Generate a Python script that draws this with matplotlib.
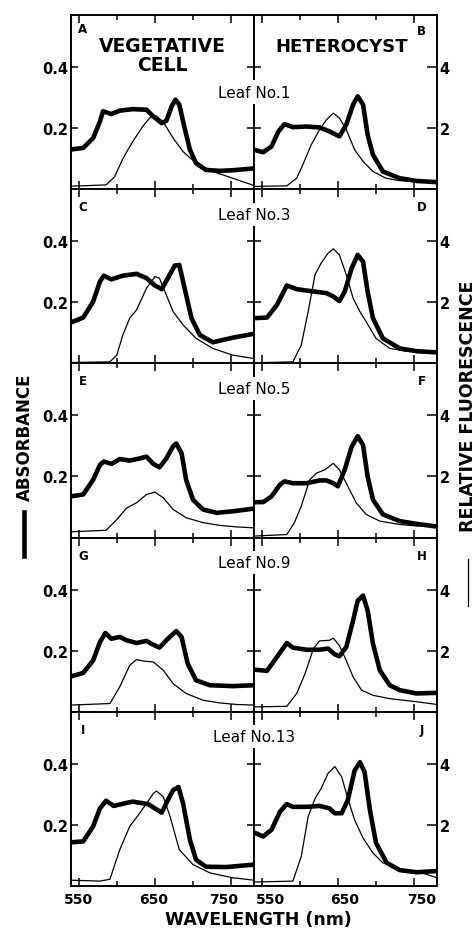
"""Absorbance and fluorescence spectra of vegetative cells and heterocysts, five leaves."""

import matplotlib.pyplot as plt
from matplotlib.lines import Line2D
from matplotlib.transforms import ScaledTranslation

W_PX, H_PX = 477, 929
LEFT_PX, MID_PX, RIGHT_PX = 71, 254, 437
TOP_PX, BOT_PX = 16, 887

LEAVES = ["Leaf No.1", "Leaf No.3", "Leaf No.5", "Leaf No.9", "Leaf No.13"]
LETTERS_VEG = ["A", "C", "E", "G", "I"]
LETTERS_HET = ["B", "D", "F", "H", "J"]
XTICKS = [550, 650, 750]
XMINOR = [600, 700]
ABS_TICKS = [0.2, 0.4]
ABS_LABELS = ["0.2", "0.4"]
FL_TICKS = [2, 4]
FL_LABELS = ["2", "4"]

# ---- leaf 1 ----
a_abs_nm = [540, 556, 569, 578, 582, 593, 604, 621, 639, 648, 659, 665, 672, 677, 682, 689, 696, 704, 717, 735, 752, 780]
a_abs = [0.13, 0.135, 0.167, 0.222, 0.255, 0.246, 0.257, 0.262, 0.26, 0.238, 0.216, 0.224, 0.271, 0.293, 0.277, 0.2,
         0.129, 0.085, 0.063, 0.06, 0.062, 0.068]
a_fl_nm = [540, 586, 597, 608, 621, 634, 643, 652, 661, 674, 687, 704, 726, 752, 780]
a_fl = [0.1, 0.14, 0.4, 1.0, 1.56, 2.05, 2.33, 2.4, 2.2, 1.67, 1.23, 0.85, 0.58, 0.36, 0.12]

b_abs_nm = [540, 552, 563, 572, 580, 591, 609, 626, 639, 652, 661, 670, 676, 683, 689, 696, 709, 731, 753, 780]
b_abs = [0.129, 0.121, 0.14, 0.189, 0.213, 0.203, 0.205, 0.202, 0.189, 0.173, 0.211, 0.277, 0.304, 0.277, 0.178,
         0.113, 0.058, 0.036, 0.027, 0.023]
b_fl_nm = [540, 583, 596, 604, 615, 626, 635, 644, 652, 661, 672, 683, 696, 713, 731, 753, 780]
b_fl = [0.09, 0.11, 0.36, 0.8, 1.45, 1.95, 2.27, 2.49, 2.33, 1.95, 1.29, 0.91, 0.58, 0.36, 0.28, 0.25, 0.22]

# ---- leaf 3 ----
c_abs_nm = [540, 556, 569, 578, 583, 593, 608, 626, 639, 650, 659, 667, 676, 682, 689, 698, 709, 726, 752, 780]
c_abs = [0.134, 0.15, 0.202, 0.268, 0.287, 0.275, 0.287, 0.293, 0.279, 0.255, 0.243, 0.279, 0.32, 0.322, 0.246,
         0.148, 0.093, 0.069, 0.084, 0.097]
c_fl_nm = [540, 591, 600, 608, 617, 626, 639, 650, 656, 665, 674, 687, 704, 726, 752, 780]
c_fl = [0.03, 0.05, 0.27, 0.93, 1.48, 1.75, 2.46, 2.84, 2.79, 2.24, 1.69, 1.26, 0.82, 0.49, 0.27, 0.16]

d_abs_nm = [540, 557, 570, 583, 596, 613, 635, 644, 652, 659, 668, 676, 683, 689, 696, 709, 731, 753, 780]
d_abs = [0.148, 0.15, 0.191, 0.255, 0.243, 0.237, 0.23, 0.219, 0.204, 0.235, 0.311, 0.355, 0.333, 0.235, 0.148,
         0.082, 0.049, 0.04, 0.036]
d_fl_nm = [540, 591, 602, 611, 620, 628, 637, 644, 652, 661, 670, 679, 687, 700, 718, 740, 780]
d_fl = [0.02, 0.05, 0.6, 1.69, 2.9, 3.28, 3.6, 3.75, 3.55, 2.9, 2.13, 1.69, 1.37, 0.82, 0.49, 0.4, 0.36]

# ---- leaf 5 ----
e_abs_nm = [540, 556, 569, 578, 583, 593, 604, 617, 630, 639, 648, 656, 665, 674, 678, 685, 691, 700, 713, 731, 752, 780]
e_abs = [0.135, 0.141, 0.189, 0.238, 0.249, 0.241, 0.257, 0.252, 0.259, 0.265, 0.241, 0.23, 0.259, 0.299, 0.308,
         0.276, 0.189, 0.124, 0.092, 0.081, 0.086, 0.095]
e_fl_nm = [540, 586, 600, 613, 626, 639, 650, 661, 674, 691, 713, 735, 757, 780]
e_fl = [0.19, 0.24, 0.59, 0.97, 1.14, 1.41, 1.49, 1.3, 0.92, 0.65, 0.49, 0.4, 0.35, 0.32]

f_abs_nm = [540, 552, 563, 574, 580, 591, 609, 626, 635, 644, 650, 659, 668, 676, 683, 689, 696, 709, 731, 753, 780]
f_abs = [0.116, 0.116, 0.135, 0.173, 0.184, 0.178, 0.178, 0.187, 0.187, 0.178, 0.168, 0.222, 0.297, 0.332, 0.303,
         0.2, 0.124, 0.076, 0.054, 0.045, 0.036]
f_fl_nm = [540, 583, 593, 602, 613, 622, 633, 644, 652, 661, 674, 687, 705, 731, 753, 780]
f_fl = [0.05, 0.1, 0.49, 1.03, 1.89, 2.11, 2.22, 2.43, 2.22, 1.78, 1.14, 0.76, 0.54, 0.43, 0.38, 0.38]

# ---- leaf 9 ----
g_abs_nm = [540, 556, 569, 578, 585, 593, 604, 613, 626, 639, 645, 656, 667, 678, 685, 693, 704, 722, 752, 780]
g_abs = [0.116, 0.127, 0.168, 0.228, 0.258, 0.239, 0.245, 0.234, 0.225, 0.232, 0.223, 0.21, 0.239, 0.264, 0.245,
         0.158, 0.103, 0.087, 0.084, 0.087]
g_fl_nm = [540, 591, 604, 617, 626, 635, 648, 661, 674, 691, 713, 735, 757, 780]
g_fl = [0.22, 0.27, 0.82, 1.52, 1.71, 1.66, 1.63, 1.36, 0.92, 0.6, 0.38, 0.29, 0.24, 0.22]

h_abs_nm = [540, 557, 570, 583, 591, 609, 626, 637, 646, 652, 661, 670, 676, 683, 689, 696, 705, 718, 731, 753, 780]
h_abs = [0.138, 0.134, 0.179, 0.225, 0.21, 0.203, 0.203, 0.207, 0.188, 0.182, 0.212, 0.299, 0.364, 0.38, 0.332,
         0.223, 0.136, 0.087, 0.071, 0.06, 0.062]
h_fl_nm = [540, 583, 596, 607, 618, 626, 639, 644, 652, 661, 670, 681, 696, 718, 753, 780]
h_fl = [0.16, 0.18, 0.6, 1.25, 2.07, 2.32, 2.34, 2.41, 2.17, 1.68, 1.14, 0.71, 0.54, 0.43, 0.33, 0.24]

# ---- leaf 13 ----
i_abs_nm = [540, 556, 569, 578, 586, 596, 613, 621, 641, 650, 659, 667, 674, 681, 687, 696, 704, 717, 744, 780]
i_abs = [0.143, 0.146, 0.195, 0.254, 0.279, 0.262, 0.272, 0.276, 0.268, 0.254, 0.24, 0.281, 0.314, 0.324, 0.27,
         0.151, 0.086, 0.063, 0.062, 0.07]
i_fl_nm = [540, 578, 591, 604, 617, 630, 639, 648, 652, 661, 670, 682, 700, 722, 752, 780]
i_fl = [0.19, 0.16, 0.22, 1.19, 1.95, 2.38, 2.7, 3.03, 3.11, 2.92, 2.27, 1.19, 0.7, 0.43, 0.27, 0.19]

j_abs_nm = [540, 552, 563, 574, 583, 591, 609, 626, 639, 646, 655, 663, 672, 679, 685, 692, 700, 714, 731, 753, 780]
j_abs = [0.175, 0.162, 0.184, 0.243, 0.268, 0.259, 0.259, 0.262, 0.254, 0.238, 0.238, 0.281, 0.378, 0.405, 0.373,
         0.249, 0.141, 0.076, 0.052, 0.045, 0.049]
j_fl_nm = [540, 591, 602, 611, 620, 628, 637, 646, 655, 663, 672, 683, 696, 709, 731, 753, 780]
j_fl = [0.13, 0.16, 0.97, 2.27, 2.86, 3.19, 3.68, 3.91, 3.57, 2.86, 2.16, 1.57, 1.08, 0.76, 0.54, 0.49, 0.27]

VEG = [(a_abs_nm, a_abs, a_fl_nm, a_fl), (c_abs_nm, c_abs, c_fl_nm, c_fl), (e_abs_nm, e_abs, e_fl_nm, e_fl),
       (g_abs_nm, g_abs, g_fl_nm, g_fl), (i_abs_nm, i_abs, i_fl_nm, i_fl)]
HET = [(b_abs_nm, b_abs, b_fl_nm, b_fl), (d_abs_nm, d_abs, d_fl_nm, d_fl), (f_abs_nm, f_abs, f_fl_nm, f_fl),
       (h_abs_nm, h_abs, h_fl_nm, h_fl), (j_abs_nm, j_abs, j_fl_nm, j_fl)]

THICK, THIN = 3.3, 0.9
SPINE = 1.2
# bottom tick-label nudges (px), as lettered in the original
XLABEL_SHIFT = {"veg": [0, -1, -7], "het": [9, 7, 8]}


def fx(px):
    return px / W_PX


def fy(px):
    return 1 - px / H_PX


def panel(fig, x0, x1, y0, y1, spectra, side, bottom_row):
    ax = fig.add_axes([fx(x0), fy(y1), fx(x1) - fx(x0), fy(y0) - fy(y1)])
    nm_a, ab, nm_f, fl = spectra
    ax.plot(nm_a, ab, color="black", lw=THICK, solid_joinstyle="round", solid_capstyle="butt")
    ax.set_xlim(540, 780)
    ax.set_ylim(0, 0.57)
    ax2 = ax.twinx()
    ax2.plot(nm_f, fl, color="black", lw=THIN, solid_joinstyle="round")
    ax2.set_ylim(0, 5.7)

    for a in (ax, ax2):
        for s in a.spines.values():
            s.set_linewidth(SPINE)

    ax.set_xticks(XTICKS)
    ax.set_xticks(XMINOR, minor=True)
    ax.tick_params(axis="x", which="both", direction="in", top=True, bottom=True, width=1.1)
    ax.tick_params(axis="x", which="major", length=5.5)
    ax.tick_params(axis="x", which="minor", length=3.5)
    if bottom_row:
        ax.set_xticklabels([str(t) for t in XTICKS], fontsize=10, fontweight="bold")
        ax.tick_params(axis="x", pad=4)
        for lab, dx in zip(ax.get_xticklabels(), XLABEL_SHIFT[side]):
            lab.set_transform(lab.get_transform() + ScaledTranslation(dx / 100, 0, fig.dpi_scale_trans))
    else:
        ax.set_xticklabels([])

    ax.set_yticks(ABS_TICKS)
    ax2.set_yticks(FL_TICKS)
    if side == "veg":
        ax.set_yticklabels(ABS_LABELS, fontsize=10.5, fontweight="bold")
        ax.tick_params(axis="y", direction="in", left=True, right=True, length=5, width=1.1, pad=2)
        ax2.tick_params(axis="y", right=False, labelright=False)
    else:
        ax.set_yticklabels([])
        ax.tick_params(axis="y", direction="in", left=True, right=False, length=5, width=1.1)
        ax2.set_yticklabels(FL_LABELS, fontsize=10.5, fontweight="bold")
        ax2.tick_params(axis="y", direction="in", right=True, length=7, width=1.1, pad=2)
    return ax


def main():
    plt.rcParams["font.family"] = ["DejaVu Sans"]
    fig = plt.figure(figsize=(W_PX / 100, H_PX / 100), dpi=100)

    h = (BOT_PX - TOP_PX) / 5
    for r in range(5):
        y0 = TOP_PX + r * h
        y1 = y0 + h
        last = r == 4
        ax_v = panel(fig, LEFT_PX, MID_PX, y0, y1, VEG[r], "veg", last)
        ax_h = panel(fig, MID_PX, RIGHT_PX, y0, y1, HET[r], "het", last)

        ax_v.text(0.065, 0.925 if r == 0 else 0.9, LETTERS_VEG[r], transform=ax_v.transAxes,
                  fontsize=8.5, fontweight="bold", va="center", ha="center")
        ax_h.text(0.915, 0.91 if r == 0 else 0.9, LETTERS_HET[r], transform=ax_h.transAxes,
                  fontsize=8.5, fontweight="bold", va="center", ha="center")

        leaf_y = 93 if r == 0 else y0 + 25
        fig.text(fx(MID_PX), fy(leaf_y), LEAVES[r], ha="center", va="center", fontsize=11,
                 bbox=dict(facecolor="white", edgecolor="none", pad=3), zorder=10)

        if r == 0:
            ax_v.text(0.5, 0.77, "VEGETATIVE\nCELL", transform=ax_v.transAxes, ha="center", va="center",
                      fontsize=13.5, fontweight="bold", linespacing=0.95)
            ax_h.text(0.48, 0.82, "HETEROCYST", transform=ax_h.transAxes, ha="center", va="center",
                      fontsize=13, fontweight="bold")

    # axis titles with line-style keys
    fig.text(fx(25), fy(437), "ABSORBANCE", rotation=90, ha="center", va="center",
             fontsize=12, fontweight="bold")
    fig.add_artist(Line2D([fx(24), fx(24)], [fy(557), fy(513)], color="black", lw=THICK))
    fig.text(fx(468), fy(406), "RELATIVE FLUORESCENCE", rotation=90, ha="center", va="center",
             fontsize=12.5, fontweight="bold")
    fig.add_artist(Line2D([fx(468), fx(468)], [fy(607), fy(560)], color="black", lw=THIN))
    fig.text(fx(258), fy(920), "WAVELENGTH (nm)", ha="center", va="center",
             fontsize=12.5, fontweight="bold")

    fig.savefig("out.png", dpi=100)
    print("Saved out.png")


if __name__ == "__main__":
    main()
